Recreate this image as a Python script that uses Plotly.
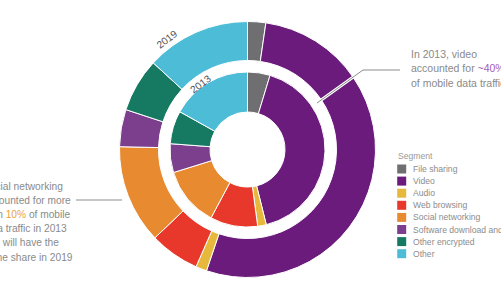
import plotly.graph_objects as go

# ---------------- data ----------------
segments = ["File sharing", "Video", "Audio", "Web browsing", "Social networking",
            "Software download and update", "Other encrypted", "Other"]
share_2013 = [4.7, 41.4, 1.8, 9.9, 12.4, 6.0, 6.9, 16.9]
share_2019 = [2.3, 53.0, 1.4, 6.3, 12.5, 4.7, 6.8, 13.2]
ring_labels = ["2013", "2019"]
colors = ["#6f6f71", "#6a1b7b", "#e6b93c", "#e8382b", "#e88a30",
          "#7c3f8d", "#167a63", "#4dbdd7"]

# ---------------- geometry (pixels) ----------------
W, H = 501, 300
cx, cy = 247.5, 149.5
R_OUT, r_OUT = 128, 89
R_IN, r_IN = 77.5, 37.5


def px(x):
    return x / W


def py(y):
    return 1 - y / H


def dom(R):
    return dict(x=[px(cx - R), px(cx + R)], y=[py(cy + R), py(cy - R)])


fig = go.Figure()

fig.add_trace(go.Pie(
    values=share_2019, labels=segments, domain=dom(R_OUT), hole=r_OUT / R_OUT,
    sort=False, direction="clockwise", rotation=0, textinfo="none",
    marker=dict(colors=colors, line=dict(color="#ffffff", width=1)),
    showlegend=False, name=ring_labels[1]))

fig.add_trace(go.Pie(
    values=share_2013, labels=segments, domain=dom(R_IN), hole=r_IN / R_IN,
    sort=False, direction="clockwise", rotation=0, textinfo="none",
    marker=dict(colors=colors, line=dict(color="#ffffff", width=1)),
    showlegend=False, name=ring_labels[0]))

# ---------------- custom legend ----------------
LEG_X0, LEG_Y0, LEG_DY = 401.7, 169.0, 12.1
idx = list(range(len(segments)))
fig.add_trace(go.Scatter(
    x=[0] * len(segments), y=idx, mode="markers",
    marker=dict(symbol="square", size=9, color=colors, line=dict(width=0)),
    showlegend=False, hoverinfo="skip", xaxis="x", yaxis="y"))

annotations = []
for i, name in enumerate(segments):
    annotations.append(dict(
        x=9.0, y=i, xref="x", yref="y", text=name, showarrow=False,
        xanchor="left", yanchor="middle",
        font=dict(family="Liberation Sans", size=8.6, color="#8c8c8c")))

annotations.append(dict(
    x=px(395.5), y=py(156.5), xref="paper", yref="paper", text="Segment",
    showarrow=False, xanchor="left", yanchor="middle",
    font=dict(family="Liberation Sans", size=8.6, color="#9a9a9a")))

# ring labels
annotations.append(dict(x=px(167), y=py(40), xref="paper", yref="paper",
                        xanchor="center", yanchor="middle",
                        text=ring_labels[1], showarrow=False, textangle=-37,
                        font=dict(family="Liberation Sans", size=10.2, color="#555555")))
annotations.append(dict(x=px(200), y=py(84), xref="paper", yref="paper",
                        xanchor="center", yanchor="middle",
                        text=ring_labels[0], showarrow=False, textangle=-37,
                        font=dict(family="Liberation Sans", size=10.2, color="#555555")))

# right call-out
right_lines = ["In 2013, video",
               "accounted for <span style='color:#a35cb5'>~40%</span>",
               "of mobile data traffic"]
for k, t in enumerate(right_lines):
    annotations.append(dict(x=px(409), y=py(53.5 + 14.5 * k), xref="paper", yref="paper",
                            text=t, showarrow=False, xanchor="left", yanchor="middle",
                            font=dict(family="Liberation Sans", size=10.5, color="#8a8a8a")))

# left call-out
left_lines = ["Social networking",
              "accounted for more",
              "than <span style='color:#eba23e'>10%</span> of mobile",
              "data traffic in 2013",
              "and will have the",
              "same share in 2019"]
for k, t in enumerate(left_lines):
    annotations.append(dict(x=px(-19), y=py(186 + 14.2 * k), xref="paper", yref="paper",
                            text=t, showarrow=False, xanchor="left", yanchor="middle",
                            font=dict(family="Liberation Sans", size=10.2, color="#8a8a8a")))

path_r = "M {} {} L {} {} L {} {}".format(px(400), py(70), px(363), py(70), px(317), py(103))
shapes = [
    dict(type="path", path=path_r, xref="paper", yref="paper",
         line=dict(color="#ffffff", width=3)),
    dict(type="path", path=path_r, xref="paper", yref="paper",
         line=dict(color="#8d8d8d", width=1)),
    dict(type="line", x0=px(76), y0=py(200), x1=px(122), y1=py(200),
         xref="paper", yref="paper", line=dict(color="#8d8d8d", width=1)),
]

fig.update_layout(
    width=W, height=H, margin=dict(l=0, r=0, t=0, b=0),
    paper_bgcolor="#ffffff", plot_bgcolor="rgba(0,0,0,0)",
    showlegend=False,
    xaxis=dict(visible=False, range=[-LEG_X0, W - LEG_X0], domain=[0, 1], fixedrange=True),
    yaxis=dict(visible=False, range=[(H - LEG_Y0) / LEG_DY, -LEG_Y0 / LEG_DY],
               domain=[0, 1], fixedrange=True),
    annotations=annotations, shapes=shapes,
)

fig.write_html("out.html")
